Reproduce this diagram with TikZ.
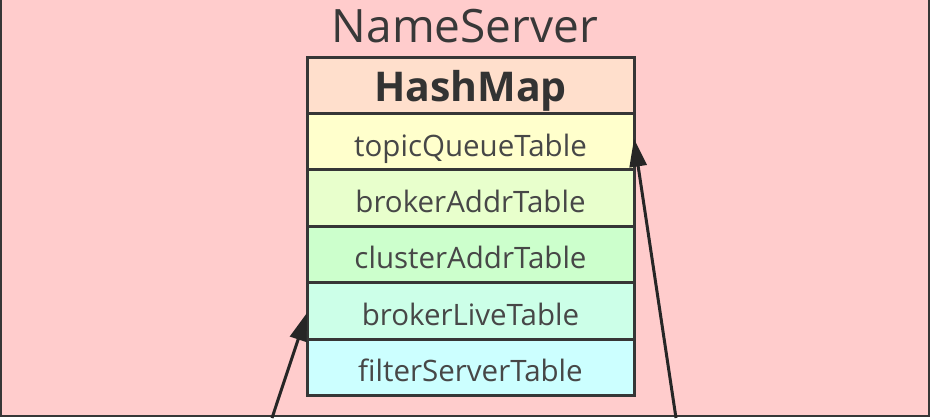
\documentclass[tikz,border=0pt]{standalone}
\usepackage{fontspec}
\setmainfont{Open Sans}
\usepackage{xcolor}
\usetikzlibrary{arrows.meta,positioning}
\definecolor{frameBg}{HTML}{FFCCCC}
\definecolor{lineDark}{HTML}{363636}
\definecolor{mapHead}{HTML}{FFDFCC}
\definecolor{rowTopic}{HTML}{FFFFCC}
\definecolor{rowAddr}{HTML}{E8FFCC}
\definecolor{rowCluster}{HTML}{CCFFCC}
\definecolor{rowLive}{HTML}{CCFFE8}
\definecolor{rowFilter}{HTML}{CCFFFF}

\begin{document}
\begin{tikzpicture}[
  x=1pt, y=-1pt,
  node distance=0pt,
  row/.style={draw=lineDark, line width=3pt, minimum width=327pt, minimum height=56.4pt, inner sep=0pt, outer sep=0pt, font=\fontsize{29.5}{32}\selectfont, text=black!72, text height=29pt, text depth=0pt},
  arrow/.style={-{Triangle[length=28pt,width=17pt]}, line width=3pt, draw=black!85}
]
\useasboundingbox (0,0) rectangle (934,418);
\draw[fill=frameBg, draw=lineDark, line width=2.5pt] (0.5,-10) rectangle (929,416);
\node[anchor=base, font=\fontsize{46}{50}\selectfont, text=black!78] (title) at (465,42) {NameServer};
\node[row, fill=mapHead, font=\fontsize{41}{44}\selectfont\bfseries, text=black!80, text height=32pt, anchor=north] (map) at (470.5,57) {HashMap};
\node[row, fill=rowTopic, below=of map] (topic) {topicQueueTable};
\node[row, fill=rowAddr, below=of topic] (addr) {brokerAddrTable};
\node[row, fill=rowCluster, below=of addr] (cluster) {clusterAddrTable};
\node[row, fill=rowLive, below=of cluster] (live) {brokerLiveTable};
\node[row, fill=rowFilter, below=of live] (filter) {filterServerTable};
\coordinate (inL) at (272,418);
\coordinate (inR) at (676,418);
\draw[arrow] (inL) -- ([yshift=-2pt]live.west);
\draw[arrow] (inR) -- ([yshift=3pt]topic.east);
\end{tikzpicture}
\end{document}
